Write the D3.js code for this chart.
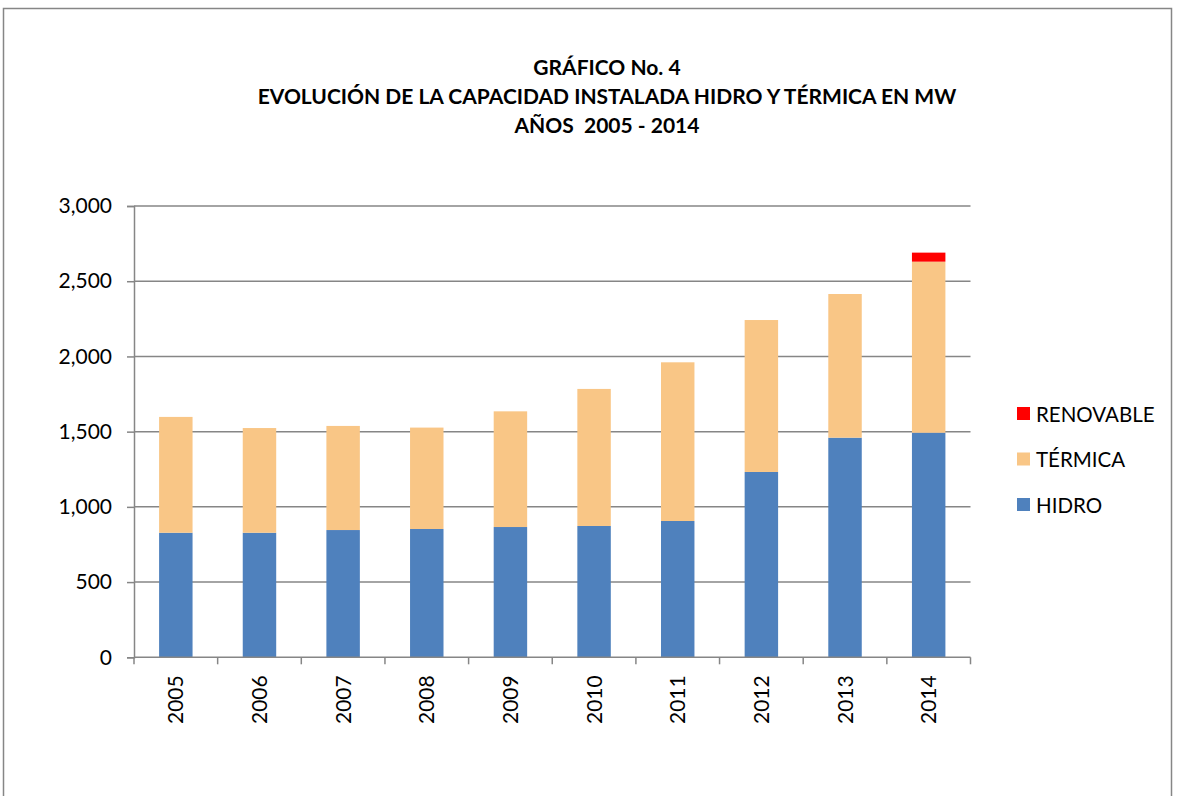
<!DOCTYPE html>
<html><head><meta charset="utf-8">
<script src="https://cdn.jsdelivr.net/npm/d3@7"></script>
<style>body{margin:0;background:#fff;} svg{display:block;} text{white-space:pre;}</style>
</head><body>
<svg id="c" width="1178" height="796"></svg>
<script>
const years = ["2005","2006","2007","2008","2009","2010","2011","2012","2013","2014"];
const hidro = [828, 828, 846, 853, 866, 873, 906, 1232, 1460, 1493];
const termica = [770, 696, 692, 674, 769, 911, 1055, 1010, 955, 1137];
const renovable = [0, 0, 0, 0, 0, 0, 0, 0, 0, 60];
const yTicks = [0, 500, 1000, 1500, 2000, 2500, 3000];
const seriesNames = ["HIDRO", "TÉRMICA", "RENOVABLE"];
const seriesColors = ["#4F81BD", "#F9C686", "#FF0000"];
const titleLines = ["GRÁFICO No. 4", "EVOLUCIÓN DE LA CAPACIDAD INSTALADA HIDRO Y TÉRMICA EN MW", "AÑOS  2005 - 2014"];

(function(){
const font = "Lato, 'Liberation Sans', sans-serif";
const svg = d3.select("#c");
svg.append("rect").attr("x",3.5).attr("y",8.5).attr("width",1168).attr("height",800)
  .attr("fill","#fff").attr("stroke","#868686").attr("stroke-width",1.5);

const pl = 134, pr = 970.5, pt = 206, pb = 657.3;
const x = d3.scaleBand().domain(years).range([pl, pr]).paddingInner(0.6).paddingOuter(0.3);
const xEdges = d3.scaleLinear().domain([0, years.length]).range([pl, pr]);
const y = d3.scaleLinear().domain([0, 3000]).range([pb, pt]);

svg.append("g").selectAll("line").data(yTicks.filter(d=>d>0)).join("line")
  .attr("x1", pl).attr("x2", pr).attr("y1", d=>y(d)).attr("y2", d=>y(d))
  .attr("stroke","#868686").attr("stroke-width",1.5);

const rows = years.map((yr,i)=>({year:yr, HIDRO:hidro[i], "TÉRMICA":termica[i], RENOVABLE:renovable[i]}));
const stack = d3.stack().keys(seriesNames)(rows);
const gBars = svg.append("g");
stack.forEach((s,k)=>{
  gBars.append("g").attr("fill", seriesColors[k]).selectAll("rect").data(s.filter(d=>d[1]-d[0]>0)).join("rect")
    .attr("x", d=>x(d.data.year)).attr("width", x.bandwidth())
    .attr("y", d=>y(d[1])).attr("height", d=>y(d[0])-y(d[1]));
});

const yAxis = d3.axisLeft(y).tickValues(yTicks).tickFormat(d3.format(",")).tickSize(7).tickPadding(15);
const ya = svg.append("g").attr("transform",`translate(${pl},0)`).call(yAxis);
ya.select(".domain").attr("stroke","#868686").attr("stroke-width",1.5);
ya.selectAll(".tick line").attr("stroke","#868686").attr("stroke-width",1.5);
ya.selectAll("text").attr("font-family",font).attr("font-size",21).attr("fill","#000");

const xa = svg.append("g").attr("transform",`translate(0,${pb})`);
xa.append("line").attr("x1",pl).attr("x2",pr).attr("stroke","#868686").attr("stroke-width",1.5);
xa.selectAll("line.t").data(d3.range(years.length+1)).join("line").attr("class","t")
  .attr("x1",d=>xEdges(d)).attr("x2",d=>xEdges(d)).attr("y1",0).attr("y2",7)
  .attr("stroke","#868686").attr("stroke-width",1.5);
xa.selectAll("text").data(years).join("text")
  .attr("transform", d=>`translate(${x(d)+x.bandwidth()/2+7.5},${18}) rotate(-90)`)
  .attr("text-anchor","end").attr("font-family",font).attr("font-size",21).attr("fill","#000").text(d=>d);

svg.append("g").selectAll("text").data(titleLines).join("text")
  .attr("x",607).attr("y",(d,i)=>75+i*29).attr("text-anchor","middle")
  .attr("font-family",font).attr("font-weight","bold").attr("font-size",21).attr("fill","#000").text(d=>d);

const legendOrder = [2,1,0];
const lg = svg.append("g");
legendOrder.forEach((k,i)=>{
  const ly = 414 + i*45.5;
  lg.append("rect").attr("x",1017).attr("y",ly-7).attr("width",13).attr("height",13).attr("fill",seriesColors[k]);
  lg.append("text").attr("x",1036).attr("y",ly+7.5).attr("font-family",font).attr("font-size",20.5).attr("fill","#000").text(seriesNames[k]);
});
})();
</script>
</body></html>
